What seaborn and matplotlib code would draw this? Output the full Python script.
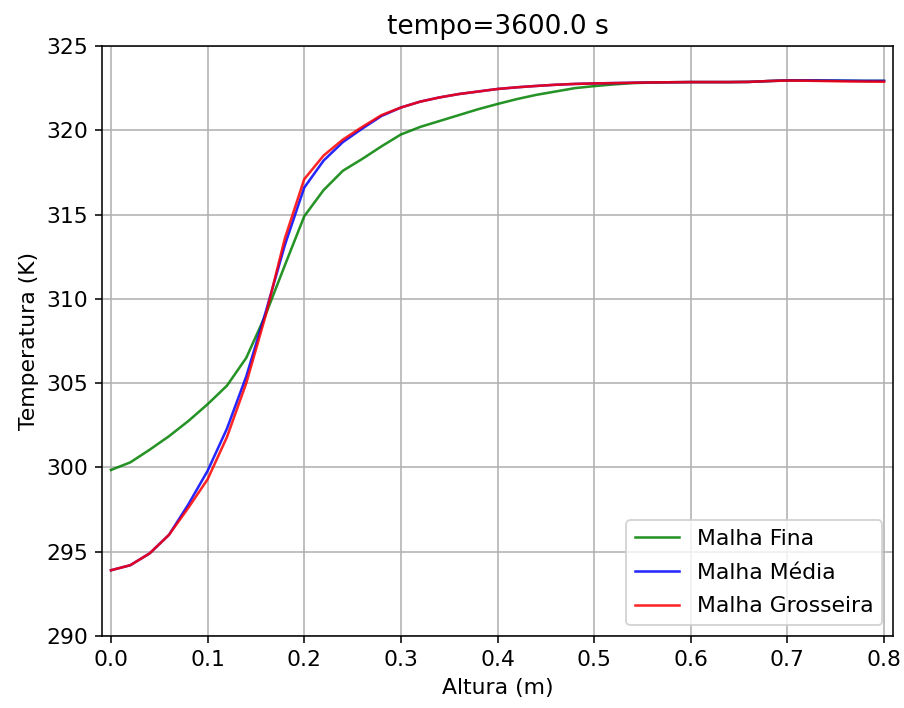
import numpy as np
import pandas as pd
import matplotlib
matplotlib.use("Agg")
import matplotlib.pyplot as plt
import seaborn as sns

altura = [0.00, 0.02, 0.04, 0.06, 0.08, 0.10, 0.12, 0.14, 0.16, 0.18,
          0.20, 0.22, 0.24, 0.26, 0.28, 0.30, 0.32, 0.34, 0.36, 0.38,
          0.40, 0.42, 0.44, 0.46, 0.48, 0.50, 0.52, 0.54, 0.56, 0.58,
          0.60, 0.62, 0.64, 0.66, 0.68, 0.70, 0.72, 0.74, 0.76, 0.78, 0.80]

malha_fina = [299.85, 300.30, 301.05, 301.85, 302.75, 303.75, 304.85, 306.50, 309.05, 312.00,
              314.90, 316.45, 317.60, 318.30, 319.05, 319.75, 320.20, 320.55, 320.90, 321.25,
              321.56, 321.85, 322.10, 322.30, 322.50, 322.62, 322.72, 322.80, 322.83, 322.85,
              322.86, 322.86, 322.86, 322.87, 322.92, 322.96, 322.96, 322.95, 322.94, 322.93, 322.93]

malha_media = [293.90, 294.20, 294.90, 296.00, 297.80, 299.80, 302.30, 305.40, 309.20, 313.20,
               316.60, 318.20, 319.30, 320.10, 320.85, 321.35, 321.70, 321.95, 322.15, 322.30,
               322.45, 322.55, 322.63, 322.70, 322.75, 322.78, 322.80, 322.82, 322.84, 322.85,
               322.86, 322.86, 322.86, 322.87, 322.92, 322.96, 322.96, 322.95, 322.94, 322.93, 322.93]

malha_grosseira = [293.90, 294.20, 294.90, 296.00, 297.60, 299.30, 301.80, 305.00, 309.00, 313.60,
                   317.10, 318.50, 319.45, 320.20, 320.90, 321.35, 321.70, 321.95, 322.15, 322.30,
                   322.45, 322.55, 322.63, 322.70, 322.75, 322.78, 322.80, 322.82, 322.84, 322.85,
                   322.86, 322.86, 322.86, 322.87, 322.92, 322.95, 322.94, 322.92, 322.90, 322.89, 322.88]

series_names = ["Malha Fina", "Malha Média", "Malha Grosseira"]
series_colors = ["green", "blue", "red"]

df = pd.concat([
    pd.DataFrame({"Altura": altura, "Temperatura": vals, "Malha": name})
    for name, vals in zip(series_names, [malha_fina, malha_media, malha_grosseira])
], ignore_index=True)

plt.rcParams["font.size"] = 11.2

DPI = 141
fig = plt.figure(figsize=(904 / DPI, 708 / DPI), dpi=DPI)
ax = fig.add_axes([102 / 904, 72 / 708, (893 - 102) / 904, (662 - 72) / 708])

sns.lineplot(data=df, x="Altura", y="Temperatura", hue="Malha",
             hue_order=series_names, palette=series_colors, sort=False,
             estimator=None, linewidth=1.3, alpha=0.85, ax=ax)

ax.set_xlim(-0.0093, 0.8093)
ax.set_ylim(290, 325)
ax.set_xticks(np.arange(0, 0.81, 0.1))
ax.set_yticks(np.arange(290, 326, 5))
ax.grid(True)
ax.set_xlabel("Altura (m)")
ax.set_ylabel("Temperatura (K)")
ax.set_title("tempo=3600.0 s")
ax.legend(loc="lower right", labelspacing=0.62)

fig.savefig("out.png", dpi=DPI)
